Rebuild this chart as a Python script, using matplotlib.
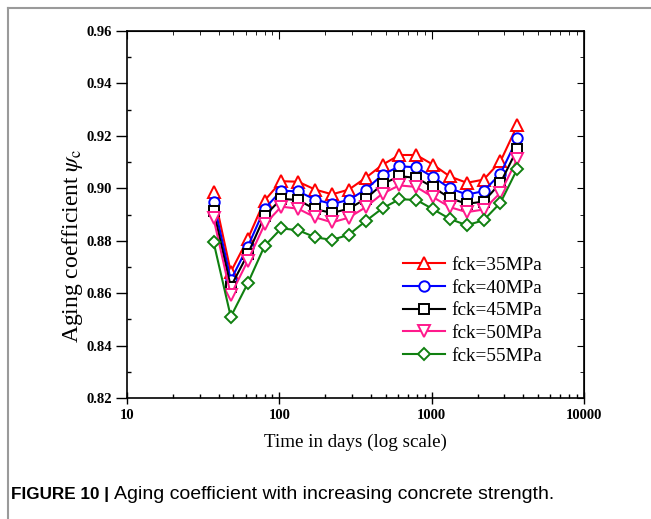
import matplotlib
matplotlib.use("Agg")
import matplotlib.pyplot as plt
from matplotlib.ticker import MultipleLocator, LogLocator, NullFormatter
from matplotlib.lines import Line2D

# time in days and aging coefficient per concrete class
days = [37, 48, 62, 80, 103, 133, 172, 222, 286, 369, 476, 614, 792, 1022, 1318, 1700, 2193, 2830, 3650]
psi_35 = [0.8985, 0.8681, 0.8806, 0.8953, 0.9027, 0.9025, 0.8995, 0.8977, 0.8995, 0.9040,
          0.9090, 0.9127, 0.9127, 0.9090, 0.9045, 0.9021, 0.9033, 0.9103, 0.9240]
psi_40 = [0.8949, 0.8650, 0.8777, 0.8922, 0.8991, 0.8988, 0.8957, 0.8940, 0.8956, 0.8995,
          0.9052, 0.9084, 0.9080, 0.9043, 0.9000, 0.8976, 0.8989, 0.9056, 0.9190]
psi_45 = [0.8915, 0.8625, 0.8748, 0.8894, 0.8960, 0.8955, 0.8920, 0.8906, 0.8922, 0.8960,
          0.9016, 0.9046, 0.9040, 0.9004, 0.8962, 0.8941, 0.8949, 0.9021, 0.9150]
psi_50 = [0.8885, 0.8593, 0.8723, 0.8862, 0.8930, 0.8922, 0.8889, 0.8870, 0.8888, 0.8928,
          0.8980, 0.9011, 0.9005, 0.8966, 0.8928, 0.8909, 0.8919, 0.8983, 0.9112]
psi_55 = [0.8795, 0.8510, 0.8637, 0.8780, 0.8847, 0.8840, 0.8813, 0.8803, 0.8823, 0.8875,
          0.8924, 0.8958, 0.8956, 0.8920, 0.8883, 0.8859, 0.8878, 0.8945, 0.9074]

labels = ['fck=35MPa', 'fck=40MPa', 'fck=45MPa', 'fck=50MPa', 'fck=55MPa']
colors = ['#ff0000', '#0000ff', '#000000', '#ff1a8c', '#108010']
markers = ['^', 'o', 's', 'v', 'D']
msizes = [8, 7.5, 6.5, 8, 6.5]

xticks = [10, 100, 1000, 10000]
yticks = [0.82, 0.84, 0.86, 0.88, 0.90, 0.92, 0.94, 0.96]

plt.rcParams['font.family'] = 'Liberation Serif'
plt.rcParams['mathtext.fontset'] = 'stix'

fig = plt.figure(figsize=(6.51, 5.19), dpi=100)
ax = fig.add_axes([127/651, 1-398/519, (584-127)/651, (398-31)/519])

series = [psi_35, psi_40, psi_45, psi_50, psi_55]
for vals, lab, c, m, ms in zip(series, labels, colors, markers, msizes):
    ax.plot(days, vals, color=c, marker=m, ms=ms, mfc='white', mec=c, mew=1.4,
            lw=1.5, label=lab)

ax.set_xscale('log')
ax.set_xlim(10, 10000)
ax.set_ylim(0.82, 0.96)
ax.xaxis.set_minor_locator(LogLocator(base=10, subs=range(2, 10)))
ax.xaxis.set_minor_formatter(NullFormatter())
ax.yaxis.set_minor_locator(MultipleLocator(0.01))
ax.set_xticks(xticks)
ax.set_xticklabels([str(v) for v in xticks])
ax.set_yticks(yticks)
ax.set_yticklabels(['%.2f' % v for v in yticks])

for lbl in ax.get_xticklabels() + ax.get_yticklabels():
    lbl.set_fontweight('bold')
    lbl.set_fontsize(10.5)

ax.tick_params(axis='y', which='major', direction='out', length=8, width=1.0, pad=3)
ax.tick_params(axis='y', which='minor', direction='in', length=3, width=1.0)
ax.tick_params(axis='x', which='major', direction='inout', length=8, width=1.0, pad=4)
ax.tick_params(axis='x', which='minor', direction='in', length=3, width=1.0)

# inward ticks on the top and right spines
top = ax.secondary_xaxis('top')
top.set_xticks(xticks)
top.xaxis.set_minor_locator(LogLocator(base=10, subs=range(2, 10)))
top.tick_params(which='major', direction='in', length=6, labeltop=False)
top.tick_params(which='minor', direction='in', length=3, labeltop=False)
right = ax.secondary_yaxis('right')
right.set_yticks(yticks)
right.yaxis.set_minor_locator(MultipleLocator(0.01))
right.tick_params(which='major', direction='in', length=5, labelright=False)
right.tick_params(which='minor', direction='in', length=3, labelright=False)

for sp in ax.spines.values():
    sp.set_linewidth(1.2)

ax.set_xlabel('Time in days (log scale)', fontsize=13.7, labelpad=8)
ax.set_ylabel(r'Aging coefficient $\psi_{\mathrm{c}}$', fontsize=17)
ax.yaxis.set_label_coords(-0.092, 0.414)

ax.legend(loc='upper left', bbox_to_anchor=(0.566, 0.433), frameon=False,
          fontsize=13.9, handlelength=2.15, labelspacing=0.27, handletextpad=0.37)

# grey frame and caption
fig.add_artist(Line2D([8/651, 8/651], [0, 1-8/519], color='#9a9a9a', lw=1.5))
fig.add_artist(Line2D([8/651, 1], [1-8/519, 1-8/519], color='#9a9a9a', lw=1.5))
cap_y = 1 - 499/519
t1 = fig.text(11/651, cap_y, 'FIGURE 10 |', family='Liberation Sans', fontweight='bold',
              fontsize=12.3, va='baseline')
fig.canvas.draw()
bb = t1.get_window_extent()
fig.text((bb.x1 + 5)/651, cap_y, 'Aging coefficient with increasing concrete strength.',
         family='Liberation Sans', fontsize=14, va='baseline')

fig.savefig('out.png', dpi=100)
